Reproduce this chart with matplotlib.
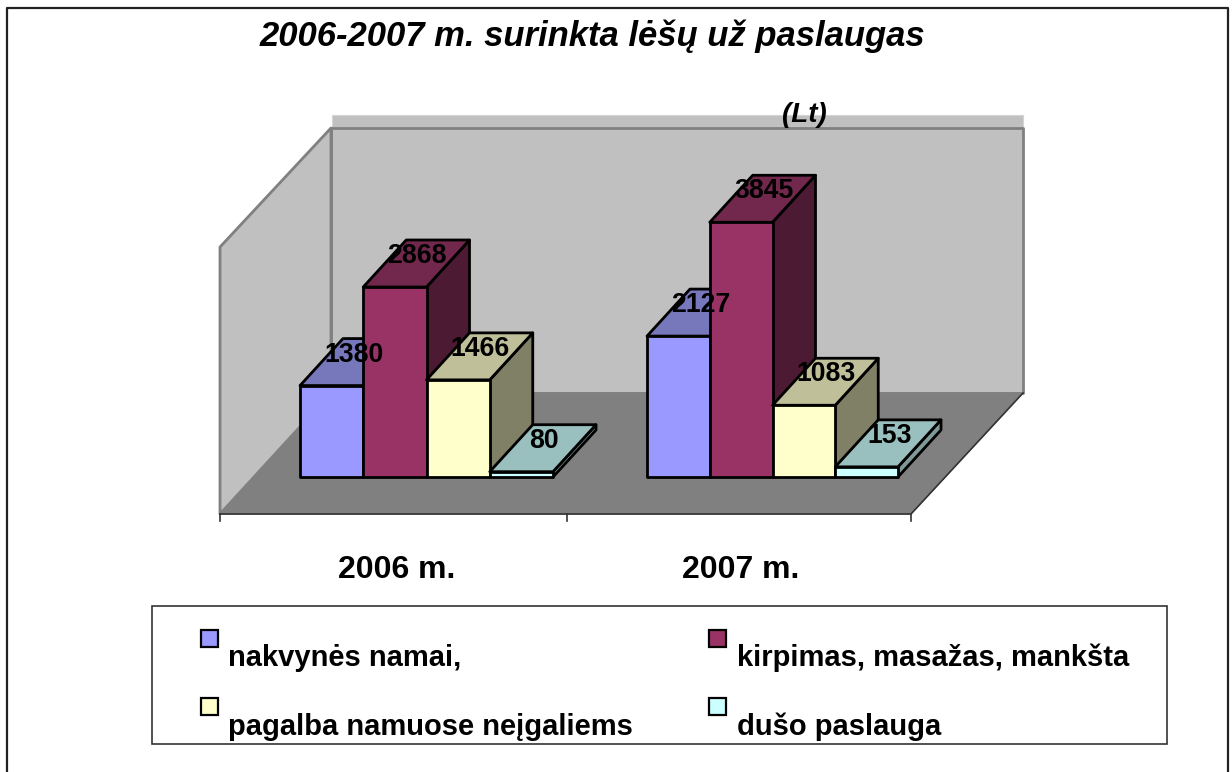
# encoding=utf-8
import matplotlib.pyplot as plt
from matplotlib.patches import Polygon, Rectangle

plt.rcParams['font.family'] = ['Liberation Sans', 'DejaVu Sans']

categories = ['2006 m.', '2007 m.']
series_names = ['nakvynės namai,', 'kirpimas, masažas, mankšta',
                'pagalba namuose neįgaliems', 'dušo paslauga']
values_2006 = [1380, 2868, 1466, 80]
values_2007 = [2127, 3845, 1083, 153]
title = '2006-2007 m. surinkta lėšų už paslaugas'
unit = '(Lt)'

front_colors = ['#9999FF', '#993366', '#FFFFCC', '#CCFFFF']
top_colors = ['#7777BB', '#72284C', '#BFBF99', '#99BFBF']
side_colors = ['#5C5C99', '#4C1A33', '#808066', '#7F9999']

# layout is in picture pixels
base_y = 477
px_per_unit = 190 / 2868
depth_x = 43
depth_y = 47
group_left = [300, 647]
group_bar_w = [63.25, 62.75]


def addPoly(ax, pts, face, edge='black', lw=2.0, z=3):
    ax.add_patch(Polygon(pts, closed=True, facecolor=face, edgecolor=edge,
                         linewidth=lw, joinstyle='round', zorder=z))


def drawBar(ax, x, bar_w, value, idx):
    top = base_y - value * px_per_unit
    r = x + bar_w
    addPoly(ax, [(r, base_y), (r + depth_x, base_y - depth_y),
                 (r + depth_x, top - depth_y), (r, top)], side_colors[idx])
    addPoly(ax, [(x, top), (r, top), (r + depth_x, top - depth_y),
                 (x + depth_x, top - depth_y)], top_colors[idx])
    ax.add_patch(Rectangle((x, top), bar_w, value * px_per_unit, facecolor=front_colors[idx],
                           edgecolor='black', linewidth=2.0, joinstyle='round', zorder=3))


fig = plt.figure(figsize=(12.32, 7.72), dpi=100)
ax = fig.add_axes([0, 0, 1, 1])
ax.set_xlim(0, 1232)
ax.set_ylim(772, 0)
ax.axis('off')

# chart frame
ax.plot([7, 7, 1228, 1228], [772, 8, 8, 772], color='#222222', lw=1.6, zorder=1)

# walls and floor
ax.add_patch(Rectangle((332, 115), 691, 13, facecolor='#C0C0C0', edgecolor='#D4D4D4', lw=0.8, zorder=1))
addPoly(ax, [(331, 128), (1023, 128), (1023, 393), (331, 393)], '#C0C0C0', '#808080', 2.0, 1)
addPoly(ax, [(220, 247), (331, 128), (331, 393), (220, 514)], '#C0C0C0', '#808080', 2.0, 1)
addPoly(ax, [(220, 514), (331, 393), (1023, 393), (911, 514)], '#808080', '#808080', 0.8, 2)
ax.plot([220, 911, 1023], [514, 514, 393], color='#333333', lw=1.2, zorder=2)
for tx in [220, 567, 911]:
    ax.plot([tx, tx], [514, 521], color='#333333', lw=1.2, zorder=2)

for left, bar_w, vals in zip(group_left, group_bar_w, [values_2006, values_2007]):
    for i, v in enumerate(vals):
        drawBar(ax, left + i * bar_w, bar_w, v, i)
    for i, v in enumerate(vals):
        lx = left + i * bar_w + 54
        ly = base_y - v * px_per_unit - 31
        ax.text(lx, ly, str(v), ha='center', va='center', fontsize=19.2,
                fontweight='bold', color='black', zorder=5)

ax.text(592, 36, title, ha='center', va='center', fontsize=24.9, fontweight='bold',
        fontstyle='italic', color='black', zorder=5)
ax.text(804, 115, unit, ha='center', va='center', fontsize=20, fontweight='bold',
        fontstyle='italic', color='black', zorder=5)

for cat, cx in zip(categories, [397, 741]):
    ax.text(cx, 570, cat, ha='center', va='center', fontsize=23, fontweight='bold', color='black')

# legend
ax.add_patch(Rectangle((152, 606), 1015, 138, facecolor='white', edgecolor='#333333', lw=1.2, zorder=1))
legend_box = [(201, 630), (709, 630), (201, 698), (709, 698)]
legend_txt = [(228, 658), (737, 658), (228, 727), (737, 727)]
for i, name in enumerate(series_names):
    bx, by = legend_box[i]
    ax.add_patch(Rectangle((bx, by), 17, 17, facecolor=front_colors[i], edgecolor='black', lw=1.6, zorder=3))
    tx, ty = legend_txt[i]
    ax.text(tx, ty, name, ha='left', va='center', fontsize=21, fontweight='bold', color='black', zorder=3)

fig.savefig('out.png', dpi=100)
